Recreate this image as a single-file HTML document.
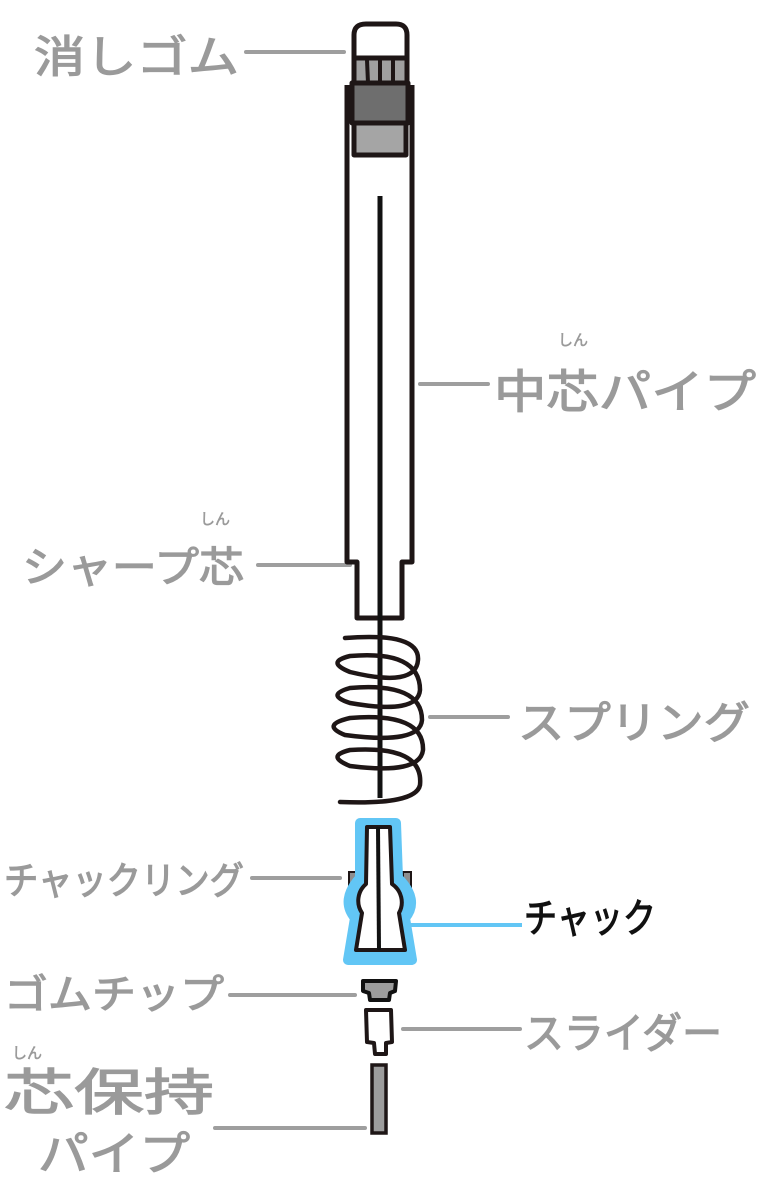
<!DOCTYPE html>
<html><head><meta charset="utf-8"><style>
html,body{margin:0;padding:0;background:#fff}
svg{display:block}
text{font-family:"Liberation Sans","Noto Sans CJK JP",sans-serif;fill:#9a9a9a;stroke:#9a9a9a;stroke-width:1.2}
.r{font-size:15px;stroke-width:0.5}
</style></head><body>
<svg width="760" height="1186" viewBox="0 0 760 1186" xmlns="http://www.w3.org/2000/svg">
<g stroke="#9e9e9e" stroke-width="4" stroke-linecap="round" fill="none">
<line x1="246" y1="52" x2="344" y2="52"/>
<line x1="420" y1="384" x2="488" y2="384"/>
<line x1="258" y1="565" x2="350" y2="565"/>
<line x1="430" y1="717" x2="508" y2="717"/>
<line x1="252" y1="878" x2="340" y2="878"/>
<line x1="230" y1="995" x2="355" y2="995"/>
<line x1="403" y1="1029" x2="520" y2="1029"/>
<line x1="215" y1="1128" x2="365" y2="1128"/>
</g>
<line x1="405" y1="925" x2="522" y2="925" stroke="#62c6f5" stroke-width="4"/>
<text x="34" y="72" font-size="44" textLength="205" lengthAdjust="spacingAndGlyphs">消しゴム</text>
<text x="494" y="408" font-size="46" textLength="262" lengthAdjust="spacingAndGlyphs">中芯パイプ</text>
<text x="558" y="345" class="r">しん</text>
<text x="22" y="582" font-size="42" textLength="222" lengthAdjust="spacingAndGlyphs">シャープ芯</text>
<text x="200" y="524" class="r">しん</text>
<text x="518" y="738" font-size="44" textLength="232" lengthAdjust="spacingAndGlyphs">スプリング</text>
<text x="4" y="894" font-size="38" textLength="240" lengthAdjust="spacingAndGlyphs">チャックリング</text>
<text x="524" y="932" font-size="40" textLength="132" lengthAdjust="spacingAndGlyphs" style="fill:#111;stroke:#111">チャック</text>
<text x="4" y="1008" font-size="40" textLength="220" lengthAdjust="spacingAndGlyphs">ゴムチップ</text>
<text x="524" y="1048" font-size="42" textLength="198" lengthAdjust="spacingAndGlyphs">スライダー</text>
<text x="4" y="1110" font-size="50" textLength="210" lengthAdjust="spacingAndGlyphs">芯保持</text>
<text x="12" y="1058" class="r">しん</text>
<text x="38" y="1170" font-size="46" textLength="152" lengthAdjust="spacingAndGlyphs">パイプ</text>
<g stroke="#1e1616" stroke-width="5" stroke-linejoin="round">
<path d="M347 85 L347 562 L357 562 L357 618 L402 618 L402 562 L412 562 L412 85" fill="#fff"/>
<path d="M354 60 L354 35 Q354 24 366 24 L396 24 Q407 24 407 35 L407 60 Z" fill="#fff"/>
<rect x="354" y="58" width="53" height="26" fill="#a0a0a0"/>
<rect x="352" y="83" width="56" height="40" fill="#6e6e6e"/>
<rect x="354" y="123" width="52" height="32" fill="#a5a5a5"/>
</g>
<g stroke="#1e1616" stroke-width="4"><line x1="367" y1="60" x2="368" y2="83"/><line x1="380" y1="60" x2="380" y2="83"/><line x1="393" y1="60" x2="393" y2="83"/></g>
<line x1="380" y1="196" x2="380" y2="798" stroke="#111" stroke-width="5"/>
<path d="M345 638 Q420 632 418 660 Q416 688 350 672 Q325 662 350 656 Q420 650 420 690 Q418 715 350 703 Q325 695 350 688 Q422 682 422 720 Q420 745 345 735 Q320 725 350 718 Q424 712 423 750 Q420 775 350 766 Q325 756 350 750 Q424 745 420 785 Q416 805 340 802" fill="none" stroke="#1e1616" stroke-width="4.5" stroke-linecap="round"/>
<path d="M349 872 L357 872 L357 888 L349 890 Z M403 872 L411 872 L411 890 L403 888 Z" fill="#8e8e8e" stroke="#1e1616" stroke-width="2"/>
<path d="M360 823 L396 823 L398 878 Q420 900 405 918 L412 960 L348 960 L355 918 Q340 900 360 878 Z" fill="#62c6f5" stroke="#62c6f5" stroke-width="10" stroke-linejoin="round"/>
<path d="M367 827 L390 827 L392 884 A22 22 0 0 1 399 913 L405 950 L356 950 L362 913 A22 22 0 0 1 366 884 Z" fill="#fff" stroke="#1e1616" stroke-width="4" stroke-linejoin="round"/>
<line x1="378" y1="827" x2="379" y2="950" stroke="#111" stroke-width="4"/>
<path d="M363 981 L396 981 L395 991 L390 993 L389 1000 L370 1000 L369 993 L363 991 Z" fill="#9c9c9c" stroke="#111" stroke-width="4" stroke-linejoin="round"/>
<path d="M366 1010 L391 1010 L392 1042 L386 1043 L386 1054 L375 1054 L374 1043 L367 1042 Z" fill="#fff" stroke="#1e1616" stroke-width="4" stroke-linejoin="round"/>
<rect x="372" y="1065" width="14" height="68" fill="#9c9c9c" stroke="#1e1616" stroke-width="3.5"/>
</svg>
</body></html>
